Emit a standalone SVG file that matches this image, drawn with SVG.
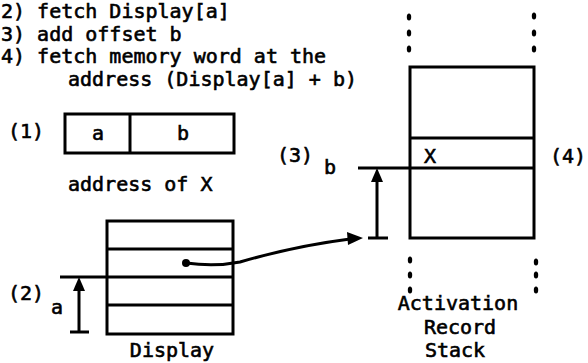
<svg xmlns="http://www.w3.org/2000/svg" width="588" height="363" viewBox="0 0 588 363">
  <style>
    .t { font-family: "DejaVu Sans Mono", "Liberation Mono", monospace; font-size: 20px; font-weight: normal; fill: #000; stroke: #000; stroke-width: 0.6; }
    .box { fill: none; stroke: #000; stroke-width: 3; }
    .ln { stroke: #000; stroke-width: 3; fill: none; }
    .dot { fill: #000; }
  </style>
  <rect width="588" height="363" fill="#fff"/>

  <g id="steps">
    <text class="t" x="1" y="18">2) fetch Display[a]</text>
    <text class="t" x="1" y="41">3) add offset b</text>
    <text class="t" x="1" y="63">4) fetch memory word at the</text>
    <text class="t" x="68" y="86">address (Display[a] + b)</text>
  </g>

  <g id="address">
    <text class="t" x="8" y="138">(1)</text>
    <rect class="box" x="65" y="114" width="169" height="39"/>
    <line class="ln" x1="130" y1="114" x2="130" y2="153"/>
    <text class="t" x="98" y="140" text-anchor="middle">a</text>
    <text class="t" x="183" y="140" text-anchor="middle">b</text>
    <text class="t" x="68" y="191">address of X</text>
  </g>

  <g id="display">
    <rect class="box" x="107" y="221" width="126" height="113"/>
    <line class="ln" x1="107" y1="249" x2="233" y2="249"/>
    <line class="ln" x1="60" y1="277" x2="233" y2="277"/>
    <line class="ln" x1="107" y1="305" x2="233" y2="305"/>
    <text class="t" x="172" y="357" text-anchor="middle">Display</text>
    <text class="t" x="8" y="300">(2)</text>
    <text class="t" x="51" y="314">a</text>
    <g id="dim-a">
      <line class="ln" x1="79" y1="285" x2="79" y2="332"/>
      <line class="ln" x1="70" y1="332" x2="89" y2="332"/>
      <path d="M79,277 L85,291 L73,291 z" class="dot"/>
    </g>
  </g>

  <g id="stack">
    <rect class="box" x="410" y="67" width="124" height="171"/>
    <line class="ln" x1="410" y1="138" x2="534" y2="138"/>
    <line class="ln" x1="358" y1="168" x2="534" y2="168"/>
    <text class="t" x="424" y="163">X</text>
    <ellipse class="dot" cx="409" cy="17" rx="2.2" ry="3.5"/>
    <ellipse class="dot" cx="409" cy="33" rx="2.2" ry="3.5"/>
    <ellipse class="dot" cx="409" cy="49" rx="2.2" ry="3.5"/>
    <ellipse class="dot" cx="534" cy="16" rx="2.2" ry="3.5"/>
    <ellipse class="dot" cx="534" cy="33" rx="2.2" ry="3.5"/>
    <ellipse class="dot" cx="534" cy="49" rx="2.2" ry="3.5"/>
    <ellipse class="dot" cx="410" cy="260" rx="2.2" ry="3.5"/>
    <ellipse class="dot" cx="410" cy="275" rx="2.2" ry="3.5"/>
    <ellipse class="dot" cx="410" cy="290" rx="2.2" ry="3.5"/>
    <ellipse class="dot" cx="536" cy="262" rx="2.2" ry="3.5"/>
    <ellipse class="dot" cx="536" cy="275" rx="2.2" ry="3.5"/>
    <ellipse class="dot" cx="536" cy="290" rx="2.2" ry="3.5"/>
    <text class="t" x="458" y="310" text-anchor="middle">Activation</text>
    <text class="t" x="460" y="334" text-anchor="middle">Record</text>
    <text class="t" x="455" y="357" text-anchor="middle">Stack</text>
    <text class="t" x="550" y="163">(4)</text>
    <text class="t" x="277" y="162">(3)</text>
    <text class="t" x="330" y="174" text-anchor="middle">b</text>
    <g id="dim-b">
      <line class="ln" x1="377" y1="176" x2="377" y2="238"/>
      <line class="ln" x1="368" y1="238" x2="388" y2="238"/>
      <path d="M377,168 L383,182 L371,182 z" class="dot"/>
    </g>
  </g>

  <g id="connectors">
    <circle class="dot" cx="186" cy="263" r="4"/>
    <path class="ln" d="M186,263 Q215,267 240,262 Q295,246 350,239"/>
    <path class="dot" d="M363,238 L347,232 L348,245 z"/>
  </g>
</svg>
